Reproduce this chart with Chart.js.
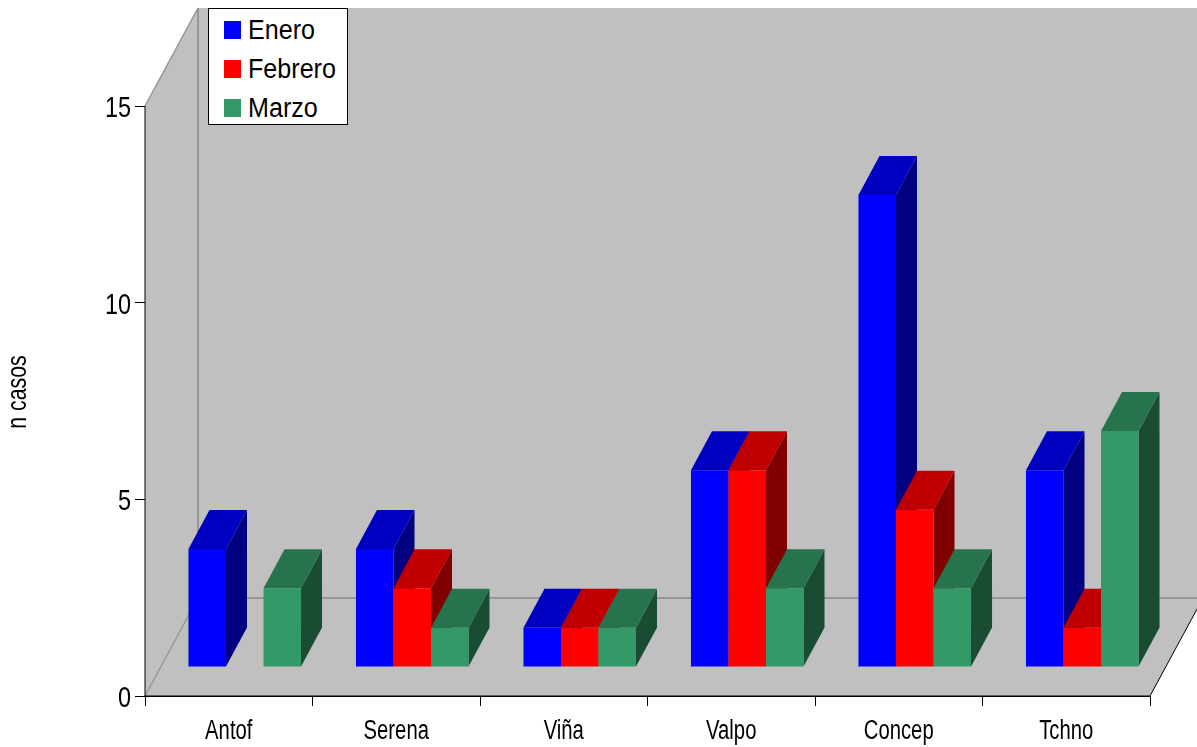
<!DOCTYPE html>
<html>
<head>
<meta charset="utf-8">
<title>n casos</title>
<script src="https://cdn.jsdelivr.net/npm/chart.js@4"></script>
<style>
  html, body { margin: 0; padding: 0; background: #fff; overflow: hidden; }
  #wrap { position: relative; width: 1197px; height: 747px; }
  #legend {
    position: absolute; left: 208px; top: 8px; width: 138px; height: 115px;
    background: #fff; border: 1px solid #000;
    font: 27px "Liberation Sans", sans-serif; color: #000;
  }
  .legend-item { position: absolute; left: 15px; height: 30px; line-height: 30px; white-space: nowrap; }
  .legend-dot { position: absolute; left: 0; top: 6px; width: 17px; height: 18px; }
  .legend-item span { position: absolute; left: 24px; top: 0; transform: scaleX(0.93); transform-origin: left center; }
</style>
</head>
<body>
<div id="wrap">
  <canvas id="chart" width="1197" height="747"></canvas>
  <div id="legend"></div>
</div>
<script>
const categories = ['Antof', 'Serena', 'Viña', 'Valpo', 'Concep', 'Tchno'];
const enero = [3, 3, 1, 5, 12, 5];
const febrero = [0, 2, 1, 5, 4, 1];
const marzo = [2, 1, 1, 2, 2, 6];
const yTicks = [0, 5, 10, 15];
const yTitle = 'n casos';

const seriesNames = ['Enero', 'Febrero', 'Marzo'];
const frontColors = ['#0000ff', '#ff0000', '#339966'];
const topColors = ['#0000c0', '#c00000', '#26734d'];
const sideColors = ['#000080', '#800000', '#1a4c33'];

const WALL = '#c0c0c0';
const WALL_LINE = '#969696';
const FONT = '"Liberation Sans", sans-serif';

// profundidad del piso y de las barras
const floorDx = 53, floorDy = -98;
const barShiftX = 16, barShiftY = -29;
const barDx = 21, barDy = -39;

function poly(ctx, pts, fill) {
  ctx.beginPath();
  pts.forEach((p, i) => i ? ctx.lineTo(p[0], p[1]) : ctx.moveTo(p[0], p[1]));
  ctx.closePath();
  ctx.fillStyle = fill;
  ctx.fill();
}

function seg(ctx, x1, y1, x2, y2, color, w) {
  ctx.beginPath();
  ctx.moveTo(x1, y1);
  ctx.lineTo(x2, y2);
  ctx.strokeStyle = color;
  ctx.lineWidth = w;
  ctx.stroke();
}

// texto angosto: no hay Arial Narrow, se comprime en horizontal
function narrowText(ctx, text, x, y, size, squeeze, align, angle) {
  ctx.save();
  ctx.translate(x, y);
  if (angle) ctx.rotate(angle);
  ctx.scale(squeeze, 1);
  ctx.font = size + 'px ' + FONT;
  ctx.fillStyle = '#000';
  ctx.textAlign = align;
  ctx.textBaseline = 'alphabetic';
  ctx.fillText(text, 0, 0);
  ctx.restore();
}

const chart3d = {
  id: 'chart3d',
  beforeDatasetsDraw(chart) {
    const ctx = chart.ctx;
    const { left: l, right: r, top: t, bottom: b } = chart.chartArea;
    ctx.save();
    // pared izquierda, fondo y piso
    poly(ctx, [[l, t], [l + floorDx, t + floorDy], [l + floorDx, b + floorDy], [l, b]], WALL);
    poly(ctx, [[l + floorDx, t + floorDy], [r + floorDx, t + floorDy], [r + floorDx, b + floorDy], [l + floorDx, b + floorDy]], WALL);
    poly(ctx, [[l, b], [l + floorDx, b + floorDy], [r + floorDx, b + floorDy], [r, b]], WALL);
    seg(ctx, l, t, l + floorDx, t + floorDy, WALL_LINE, 1.5);
    seg(ctx, l + floorDx, t + floorDy, l + floorDx, b + floorDy, WALL_LINE, 2);
    seg(ctx, l + floorDx, b + floorDy, r + floorDx, b + floorDy, WALL_LINE, 2);
    seg(ctx, l, b, l + floorDx, b + floorDy, WALL_LINE, 1.5);
    seg(ctx, r, b, r + floorDx, b + floorDy, '#000', 1);
    // redibuja los ejes encima del piso
    seg(ctx, l, t, l, b, '#000', 1);
    seg(ctx, l, b, r, b, '#000', 1);

    // barras adelantadas sobre el piso, Enero primero para que Marzo quede encima
    ctx.translate(barShiftX, barShiftY);
    chart.data.datasets.forEach((ds, i) => {
      const meta = chart.getDatasetMeta(i);
      meta.data.forEach(bar => {
        if (bar.base - bar.y < 0.5) return;
        const x0 = bar.x - bar.width / 2, x1 = bar.x + bar.width / 2;
        poly(ctx, [[x1, bar.y], [x1 + barDx, bar.y + barDy], [x1 + barDx, bar.base + barDy], [x1, bar.base]], sideColors[i]);
        poly(ctx, [[x0, bar.y], [x0 + barDx, bar.y + barDy], [x1 + barDx, bar.y + barDy], [x1, bar.y]], topColors[i]);
      });
      meta.controller.draw();
    });
    ctx.restore();
    return false; // ya se dibujaron las barras
  },
  afterDraw(chart) {
    const ctx = chart.ctx;
    const { x, y } = chart.scales;
    categories.forEach((c, i) => narrowText(ctx, c, x.getPixelForValue(i), 739, 27, 0.75, 'center'));
    yTicks.forEach(v => narrowText(ctx, String(v), 131, y.getPixelForValue(v) + 11, 30, 0.78, 'right'));
    narrowText(ctx, yTitle, 26, (y.top + y.bottom) / 2 - 9, 27, 0.79, 'center', -Math.PI / 2);
  }
};

new Chart(document.getElementById('chart').getContext('2d'), {
  type: 'bar',
  data: {
    labels: categories,
    datasets: [enero, febrero, marzo].map((values, i) => ({
      label: seriesNames[i],
      data: values,
      backgroundColor: frontColors[i],
      borderWidth: 0,
      categoryPercentage: 0.672,
      barPercentage: 1,
      clip: false
    }))
  },
  options: {
    responsive: false,
    animation: false,
    layout: { padding: { left: 0, right: 47, top: 106, bottom: 0 } },
    plugins: { legend: { display: false }, tooltip: { enabled: false } },
    scales: {
      x: {
        offset: true,
        afterFit: s => { s.height = 51; },
        border: { color: '#000', width: 1 },
        grid: { offset: true, drawOnChartArea: false, color: '#000', tickLength: 10 },
        ticks: { display: false }
      },
      y: {
        min: 0,
        max: 15,
        afterFit: s => { s.width = 145; },
        afterBuildTicks: s => { s.ticks = yTicks.map(v => ({ value: v })); },
        border: { color: '#000', width: 1 },
        grid: { drawOnChartArea: false, color: '#000', tickLength: 10 },
        ticks: { display: false }
      }
    }
  },
  plugins: [chart3d]
});

// Leyenda manual arriba del grafico
document.getElementById('legend').innerHTML = seriesNames.map((name, i) => `
  <div class="legend-item" style="top:${[6, 45, 84][i]}px">
    <div class="legend-dot" style="background:${frontColors[i]}"></div>
    <span>${name}</span>
  </div>`
).join('');
</script>
</body>
</html>
